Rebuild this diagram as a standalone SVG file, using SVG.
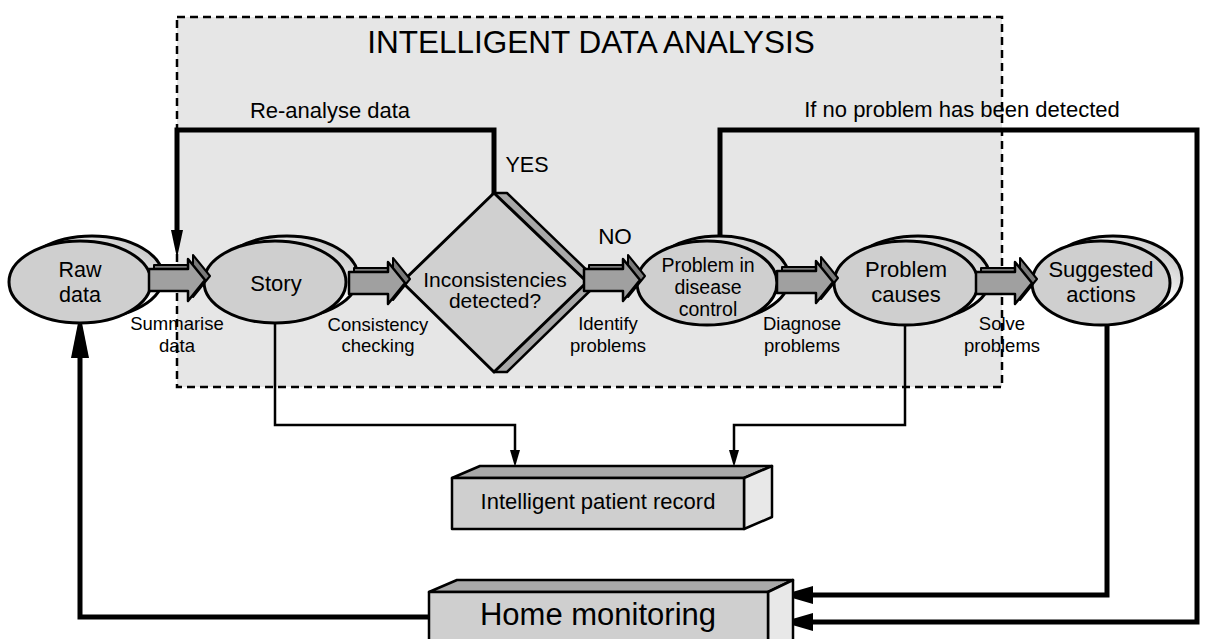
<svg xmlns="http://www.w3.org/2000/svg" width="1205" height="639" viewBox="0 0 1205 639">
<style>
text{font-family:"Liberation Sans",Arial,sans-serif;fill:#000;text-anchor:middle}
.ell{fill:#cfcfcf;stroke:#000;stroke-width:3}
.sh{fill:url(#shg);stroke:#000;stroke-width:3}
.thick{fill:none;stroke:#000;stroke-width:5}
.thin{fill:none;stroke:#000;stroke-width:2.5}
.head{fill:#000;stroke:none}
.box{fill:#cfcfcf;stroke:#000;stroke-width:2.5;stroke-linejoin:round}
.top{fill:#a9a9a9;stroke:#000;stroke-width:2.5;stroke-linejoin:round}
.side{fill:#e8e8e8;stroke:#000;stroke-width:2.5;stroke-linejoin:round}
.lbl{font-size:18.5px}
.nt{font-size:21.5px}
.pt{font-size:19.5px}
</style>
<defs>
<linearGradient id="shg" x1="0" y1="1" x2="1" y2="0">
<stop offset="0" stop-color="#9a9a9a"/>
<stop offset="0.55" stop-color="#ffffff"/>
<stop offset="1" stop-color="#b0b0b0"/>
</linearGradient>
<g id="fat">
<polygon points="5,-15 44,-15 44,-25 61,-4 44,17 44,7 5,7" fill="#7a7a7a" stroke="#000" stroke-width="2" stroke-linejoin="round"/>
<polygon points="0,-11 39,-11 39,-21 56,0 39,21 39,11 0,11" fill="#a0a0a0" stroke="#000" stroke-width="2.5" stroke-linejoin="round"/>
</g>
</defs>
<rect width="1205" height="639" fill="#fff"/>
<g id="ida">
<rect x="177" y="17" width="825" height="370" fill="#e6e6e6" stroke="#000" stroke-width="2.5" stroke-dasharray="8,5"/>
<text x="591" y="53" style="font-size:31.5px">INTELLIGENT DATA ANALYSIS</text>
</g>
<g id="connectors">
<path class="thick" d="M494,195 V130 H177 V235"/>
<polygon class="head" points="177,258 171,230 183,230"/>
<text x="330" y="118" style="font-size:22px">Re-analyse data</text>
<text x="527" y="172" style="font-size:21.5px">YES</text>
<text x="615" y="244" style="font-size:22.5px">NO</text>
<path class="thick" d="M720,240 V130 H1197 V622 H810"/>
<polygon class="head" points="782,622 813,613 813,631"/>
<text x="962" y="117" style="font-size:22px">If no problem has been detected</text>
<path class="thick" d="M1107,323 V595 H810"/>
<polygon class="head" points="782,595 813,586 813,604"/>
<path class="thick" d="M429,617 H80 V355"/>
<polygon class="head" points="80,313 71,358 89,358"/>
<path class="thin" d="M275,323 V425 H515 V452"/>
<polygon class="head" points="515,467 510,450 520,450"/>
<path class="thin" d="M905,325 V425 H734 V452"/>
<polygon class="head" points="734,467 729,450 739,450"/>
</g>
<g id="raw">
<ellipse class="sh" cx="92" cy="277" rx="71" ry="41"/>
<ellipse class="ell" cx="80" cy="282" rx="71" ry="41"/>
<text class="nt" x="80" y="277">Raw</text>
<text class="nt" x="80" y="302">data</text>
</g>
<g id="story">
<ellipse class="sh" cx="287" cy="277" rx="71" ry="41"/>
<ellipse class="ell" cx="275" cy="282" rx="71" ry="41"/>
<text x="276" y="291" style="font-size:22px">Story</text>
</g>
<g id="decision">
<polygon points="494,193 507,193 599,282 507,372 494,372" fill="#a8a8a8" stroke="#000" stroke-width="2.5" stroke-linejoin="round"/>
<polygon points="494,193 587,282 494,372 402,282" fill="#d0d0d0" stroke="#000" stroke-width="3" stroke-linejoin="round"/>
<text x="495" y="287" style="font-size:21px">Inconsistencies</text>
<text x="495" y="308" style="font-size:21px">detected?</text>
</g>
<g id="problem">
<ellipse class="sh" cx="719" cy="278" rx="70" ry="42"/>
<ellipse class="ell" cx="707" cy="283" rx="70" ry="42"/>
<text class="pt" x="708" y="272">Problem in</text>
<text class="pt" x="708" y="294">disease</text>
<text class="pt" x="708" y="316">control</text>
</g>
<g id="causes">
<ellipse class="sh" cx="918" cy="278" rx="72" ry="42"/>
<ellipse class="ell" cx="906" cy="283" rx="72" ry="42"/>
<text x="906" y="277" style="font-size:22px">Problem</text>
<text x="906" y="302" style="font-size:22px">causes</text>
</g>
<g id="actions">
<ellipse class="sh" cx="1113" cy="278" rx="69" ry="42"/>
<ellipse class="ell" cx="1101" cy="283" rx="69" ry="42"/>
<text x="1101" y="277" style="font-size:22px">Suggested</text>
<text x="1101" y="302" style="font-size:22px">actions</text>
</g>
<g id="flow-arrows">
<use href="#fat" x="149" y="280"/>
<use href="#fat" x="349" y="283"/>
<use href="#fat" x="584" y="280"/>
<use href="#fat" x="777" y="282"/>
<use href="#fat" x="976" y="283"/>
<text class="lbl" x="177" y="330">Summarise</text>
<text class="lbl" x="177" y="352">data</text>
<text class="lbl" x="378" y="331">Consistency</text>
<text class="lbl" x="378" y="352">checking</text>
<text class="lbl" x="608" y="330">Identify</text>
<text class="lbl" x="608" y="352">problems</text>
<text class="lbl" x="802" y="330">Diagnose</text>
<text class="lbl" x="802" y="352">problems</text>
<text class="lbl" x="1002" y="330">Solve</text>
<text class="lbl" x="1002" y="352">problems</text>
</g>
<g id="record">
<polygon class="top" points="452,478 480,466 772,466 744,478"/>
<polygon class="side" points="744,478 772,466 772,517 744,529"/>
<rect class="box" x="452" y="478" width="292" height="51"/>
<text x="598" y="509" style="font-size:22px">Intelligent patient record</text>
</g>
<g id="home">
<polygon class="top" points="429,592 457,580 793,580 768,592"/>
<polygon class="side" points="768,592 793,580 793,640 768,652"/>
<rect class="box" x="429" y="592" width="339" height="60"/>
<text x="598" y="625" style="font-size:31px">Home monitoring</text>
</g>
</svg>
